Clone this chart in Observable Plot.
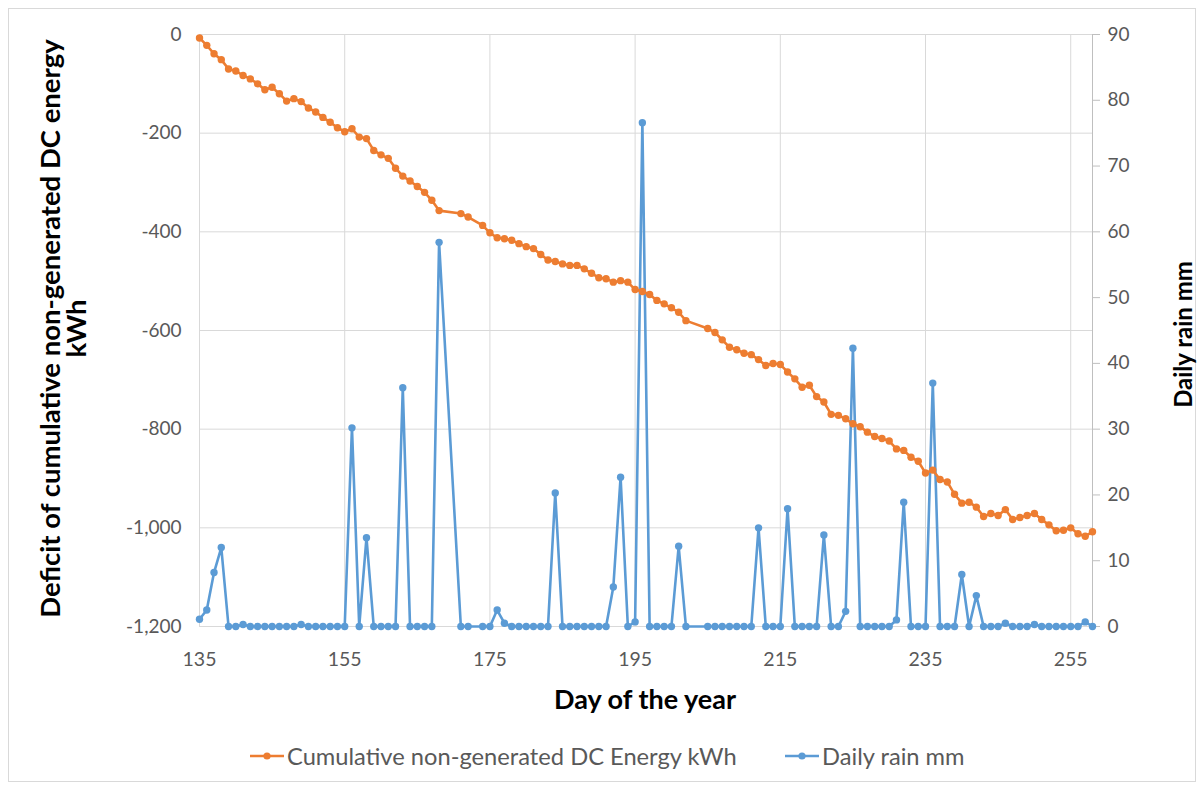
<!DOCTYPE html>
<html><head><meta charset="utf-8">
<script src="https://cdn.jsdelivr.net/npm/d3@7"></script>
<script src="https://cdn.jsdelivr.net/npm/@observablehq/plot@0.6"></script>
<style>
body{margin:0;background:#fff;font-family:Lato,sans-serif;}
#wrap{position:relative;width:1203px;height:787px;overflow:hidden;}
#frame{position:absolute;left:8px;top:8px;width:1188px;height:774px;border:1px solid #d9d9d9;box-sizing:border-box;}
#chart{position:absolute;left:0;top:0;}
.leg{position:absolute;top:742px;display:flex;align-items:center;font-size:23.7px;color:#595959;white-space:nowrap;}
.leg svg{margin-right:3px;}
</style></head><body>
<div id="wrap"><div id="frame"></div><div id="chart"></div>
<div class="leg" id="leg1" style="left:250px"></div>
<div class="leg" id="leg2" style="left:785px"></div>
</div>
<script>
const days = [135,136,137,138,139,140,141,142,143,144,145,146,147,148,149,150,151,152,153,154,155,156,157,158,159,160,161,162,163,164,165,166,167,168,
171,172,
174,175,176,177,178,179,180,181,182,183,184,185,186,187,188,189,190,191,192,193,194,195,196,197,198,199,200,201,202,
205,206,207,208,209,210,211,212,213,214,215,216,217,218,219,220,221,222,223,224,225,226,227,228,229,230,231,232,233,234,235,236,237,238,239,240,241,242,243,244,245,246,247,248,249,250,251,252,253,254,255,256,257,258];
const energy = [-7,-22,-39,-51,-70,-74,-83,-90,-100,-112,-107,-120,-135,-130,-136,-149,-157,-168,-178,-189,-197,-191,-208,-211,-235,-244,-251,-271,-287,-297,-308,-320,-336,-357,
-363,-370,
-387,-402,-412,-414,-417,-424,-430,-434,-446,-457,-460,-465,-468,-468,-475,-484,-493,-495,-502,-499,-502,-517,-521,-527,-539,-546,-554,-563,-580,
-596,-604,-619,-634,-639,-646,-649,-659,-671,-667,-669,-684,-698,-715,-711,-734,-745,-770,-772,-779,-789,-795,-806,-815,-819,-824,-840,-843,-857,-865,-889,-883,-902,-907,-932,-950,-948,-958,-977,-971,-975,-963,-983,-979,-975,-971,-983,-994,-1006,-1005,-1000,-1012,-1017,-1008];
const rain = [1.1,2.5,8.2,12.0,0,0,0.3,0,0,0,0,0,0,0,0.3,0,0,0,0,0,0,30.2,0,13.5,0,0,0,0,36.3,0,0,0,0,58.4,
0,0,
0,0,2.5,0.5,0,0,0,0,0,0,20.3,0,0,0,0,0,0,0,6.0,22.7,0,0.7,76.6,0,0,0,0,12.2,0,
0,0,0,0,0,0,0,15.0,0,0,0,17.9,0,0,0,0,13.9,0,0,2.3,42.3,0,0,0,0,0,1.0,18.9,0,0,0,37.0,0,0,0,7.9,0,4.7,0,0,0,0.5,0,0,0,0.3,0,0,0,0,0,0,0.7,0];
const xTicks = [135,155,175,195,215,235,255];
const yTicks = [0,-200,-400,-600,-800,-1000,-1200];
const rainTicks = [0,10,20,30,40,50,60,70,80,90];
const seriesNames = ["Cumulative non-generated DC Energy kWh","Daily rain mm"];
const colors = ["#ED7D31","#5B9BD5"];
const titles = {x:"Day of the year", y:"Deficit of cumulative non-generated DC energy\nkWh", y2:"Daily rain mm"};

const fmt = d3.formatLocale({decimal:".",thousands:",",grouping:[3],currency:["$",""],minus:"-"}).format(",");
const r2y = d3.scaleLinear([0,90],[-1200,0]);
const energyRows = days.map((d,i)=>({day:d, v:energy[i]}));
const rainRows = days.map((d,i)=>({day:d, v:r2y(rain[i])}));

const chart = Plot.plot({
  width:1203, height:730,
  marginLeft:199, marginRight:111, marginTop:34, marginBottom:104,
  style:{fontFamily:"Lato, sans-serif", fontSize:"19px", color:"#595959", background:"transparent", overflow:"visible"},
  x:{domain:[135,258], label:null},
  y:{domain:[-1200,0], label:null},
  marks:[
    Plot.gridX(xTicks,{stroke:"#d9d9d9", strokeOpacity:1}),
    Plot.gridY(yTicks,{stroke:"#d9d9d9", strokeOpacity:1}),
    Plot.ruleX([258],{stroke:"#bfbfbf", strokeOpacity:1}),
    Plot.axisX(xTicks,{tickSize:0, tickPadding:26, fill:"#595959", fontSize:19.5}),
    Plot.axisY(yTicks,{anchor:"left", tickSize:0, tickPadding:18, tickFormat:fmt, fill:"#595959", fontSize:19}),
    Plot.axisY(rainTicks.map(r2y),{anchor:"right", tickSize:7, tickPadding:8, stroke:"#bfbfbf", tickFormat:d=>String(Math.round(r2y.invert(d))), fill:"#595959", fontSize:19}),
    Plot.line(rainRows,{x:"day", y:"v", stroke:colors[1], strokeWidth:2.6}),
    Plot.dot(rainRows,{x:"day", y:"v", fill:colors[1], r:3.7}),
    Plot.line(energyRows,{x:"day", y:"v", stroke:colors[0], strokeWidth:2.6}),
    Plot.dot(energyRows,{x:"day", y:"v", fill:colors[0], r:3.7}),
    Plot.text([titles.x],{frameAnchor:"bottom", lineAnchor:"middle", textAnchor:"middle", dy:74, dx:-1, fontWeight:"bold", fontSize:27, fill:"black"}),
    Plot.text([titles.y],{frameAnchor:"left", lineAnchor:"middle", textAnchor:"middle", dx:-135, dy:-2, rotate:-90, fontWeight:"bold", fontSize:27.5, fill:"black", lineHeight:0.95}),
    Plot.text([titles.y2],{frameAnchor:"right", lineAnchor:"middle", textAnchor:"middle", dx:92, dy:4, rotate:-90, fontWeight:"bold", fontSize:24, fill:"black"})
  ]
});
document.getElementById("chart").appendChild(chart);

function legItem(id, i){
  const el = document.getElementById(id);
  el.innerHTML = `<svg width="34" height="12"><line x1="0" y1="6" x2="34" y2="6" stroke="${colors[i]}" stroke-width="2.5"/><circle cx="17" cy="6" r="3.6" fill="${colors[i]}"/></svg><span>${seriesNames[i]}</span>`;
}
legItem("leg1",0); legItem("leg2",1);
</script>
</body></html>
